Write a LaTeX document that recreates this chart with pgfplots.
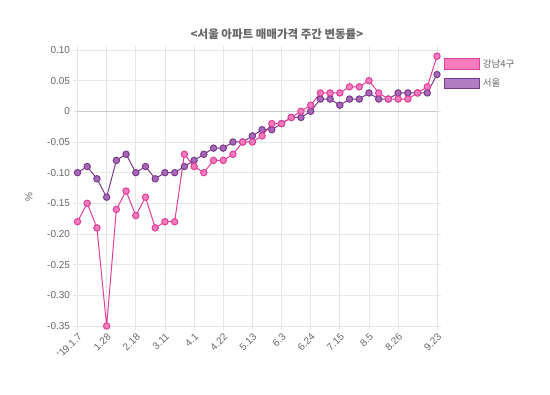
\documentclass[border=0pt]{standalone}
\usepackage{pgfplots}
\usepackage{pgfplotstable}
\pgfplotsset{compat=1.18}
\usepackage{fontspec}
\setmainfont{Liberation Sans}
\newfontfamily\kr{Noto Sans CJK KR}
\definecolor{pinkline}{HTML}{E23D98}
\definecolor{pinkfill}{HTML}{F27CBE}
\definecolor{purpleline}{HTML}{7A3A8C}
\definecolor{purplefill}{HTML}{A867B8}
\definecolor{legpink}{HTML}{F77DBD}
\definecolor{legpurple}{HTML}{B27CC3}
\definecolor{gridgray}{HTML}{E6E6E6}
\definecolor{zerogray}{HTML}{C8C8C8}
\definecolor{labelgray}{HTML}{666666}

\pgfplotstableread{
x g s
0 -0.18 -0.10
1 -0.15 -0.09
2 -0.19 -0.11
3 -0.35 -0.14
4 -0.16 -0.08
5 -0.13 -0.07
6 -0.17 -0.10
7 -0.14 -0.09
8 -0.19 -0.11
9 -0.18 -0.10
10 -0.18 -0.10
11 -0.07 -0.09
12 -0.09 -0.08
13 -0.10 -0.07
14 -0.08 -0.06
15 -0.08 -0.06
16 -0.07 -0.05
17 -0.05 -0.05
18 -0.05 -0.04
19 -0.04 -0.03
20 -0.02 -0.03
21 -0.02 -0.02
22 -0.01 -0.01
23 0.00 -0.01
24 0.01 0.00
25 0.03 0.02
26 0.03 0.02
27 0.03 0.01
28 0.04 0.02
29 0.04 0.02
30 0.05 0.03
31 0.03 0.02
32 0.02 0.02
33 0.02 0.03
34 0.02 0.03
35 0.03 0.03
36 0.04 0.03
37 0.09 0.06
}\datatable

\begin{document}
\begin{tikzpicture}[x=1pt,y=1pt]
\path[use as bounding box] (0pt,0pt) rectangle (550pt,395pt);
\begin{axis}[
  at={(77.5pt,69pt)}, anchor=south west,
  scale only axis, width=359.5pt, height=276pt,
  xmin=0, xmax=37, ymin=-0.35, ymax=0.10,
  xtick={0,3,6,9,12,15,18,21,24,27,30,33,37},
  xticklabels={{'19.1.7},1.28,2.18,3.11,4.1,4.22,5.13,6.3,6.24,7.15,8.5,8.26,9.23},
  ytick={-0.35,-0.30,-0.25,-0.20,-0.15,-0.10,-0.05,0,0.05,0.10},
  yticklabels={-0.35,-0.30,-0.25,-0.20,-0.15,-0.10,-0.05,0,0.05,0.10},
  grid=major,
  major grid style={draw=gridgray, line width=0.7pt},
  axis line style={draw=gridgray, line width=0.7pt},
  tick style={draw=gridgray, line width=0.7pt},
  tick align=outside, major tick length=4pt,
  xticklabel style={rotate=45, anchor=north east, font=\fontsize{10}{12}\selectfont, text=labelgray, inner sep=1.5pt},
  yticklabel style={font=\fontsize{10}{12}\selectfont, text=labelgray},
  ylabel={\%},
  ylabel style={at={(axis description cs:-0.135,0.467)}, anchor=center, rotate=0, font=\fontsize{10}{12}\selectfont, text=labelgray},
  clip=false,
  reverse legend,
  legend cell align=left,
  legend style={at={(axis description cs:1.018,0.972)}, anchor=north west, draw=none, fill=none,
     font=\kr\fontsize{9.5}{11}\selectfont, text=labelgray, inner sep=0pt, row sep=7pt,
     nodes={inner ysep=1.5pt, inner xsep=3.5pt, anchor=west}},
]
\draw[zerogray, line width=0.8pt] (axis cs:0,0) -- (axis cs:37,0);
\addplot[color=purpleline, line width=1pt, mark=*, mark size=3.2pt,
  mark options={fill=purplefill, draw=purpleline, line width=1pt},
  legend image code/.code={\draw[fill=legpurple, draw=purpleline, line width=0.8pt] (0pt,-5.3pt) rectangle (35pt,5.3pt);}]
  table[x=x, y=s] {\datatable};
\addlegendentry{서울}
\addplot[color=pinkline, line width=1pt, mark=*, mark size=3.2pt,
  mark options={fill=pinkfill, draw=pinkline, line width=1pt},
  legend image code/.code={\draw[fill=legpink, draw=pinkline, line width=0.8pt] (0pt,-5.3pt) rectangle (35pt,5.3pt);}]
  table[x=x, y=g] {\datatable};
\addlegendentry{강남4구}
\end{axis}
\node[font=\kr\bfseries\fontsize{11.5}{13}\selectfont, text=labelgray] at (277pt,361pt) {<서울 아파트 매매가격 주간 변동률>};
\end{tikzpicture}
\end{document}
